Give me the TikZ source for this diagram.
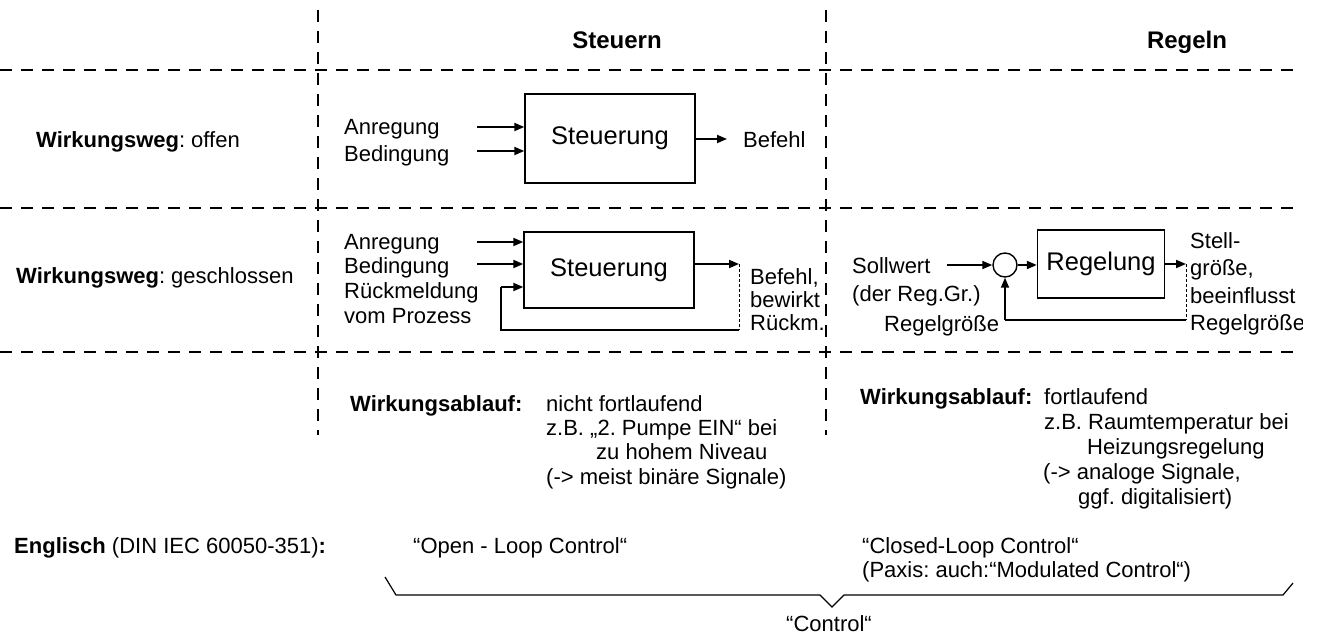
\documentclass[tikz,border=0pt]{standalone}
\usepackage{fontspec}
\setmainfont{Liberation Sans}
\usetikzlibrary{arrows.meta}
\frenchspacing
\begin{document}
\begin{tikzpicture}[x=1pt,y=-1pt,
  txt/.style={font=\fontsize{22}{25}\selectfont, inner sep=0pt, anchor=base west},
  ttl/.style={font=\fontsize{24}{28}\selectfont\bfseries, inner sep=0pt, anchor=base},
  blk/.style={draw, line width=1.4pt, font=\fontsize{25.5}{30}\selectfont, inner sep=0pt},
  grid/.style={line width=2.2pt, dash pattern=on 12pt off 9pt},
  sig/.style={line width=1.8pt, -{Triangle[length=10pt,width=8pt]}},
  fb/.style={line width=1.6pt},
  weak/.style={line width=1pt, dash pattern=on 3pt off 2pt},
  brace/.style={line width=1.2pt}
]
\useasboundingbox (0,0) rectangle (1318,634);
\clip (0,0) rectangle (1302,634);

% ---- table grid ----
\draw[grid] (318,10) -- (318,435);
\draw[grid] (826,10) -- (826,435);
\draw[grid] (0,70) -- (1300,70);
\draw[grid] (0,208) -- (1300,208);
\draw[grid] (0,352) -- (1300,352);

% ---- column headings ----
\node[ttl] (hSteuern) at (617,49) {Steuern};
\node[ttl] (hRegeln) at (1187,49) {Regeln};

% ---- row headings ----
\node[txt] (rowOpen) at (36,147) {\textbf{Wirkungsweg}: offen};
\node[txt] (rowClosed) at (16,283) {\textbf{Wirkungsweg}: geschlossen};

% ---- open-loop control ----
\node[blk, minimum width=170pt, minimum height=89pt] (steuA) at (610,138.5) {Steuerung};
\node[txt] (aAnr) at (344,135) {Anregung};
\node[txt] (aBed) at (344,161) {Bedingung};
\coordinate (aIn1) at (477,127);
\coordinate (aIn2) at (477,151);
\draw[sig] (aIn1) -- (aIn1 -| steuA.west);
\draw[sig] (aIn2) -- (aIn2 -| steuA.west);
\coordinate (aOut) at (727,139);
\draw[sig] (steuA.east |- aOut) -- (aOut);
\node[txt] (aBef) at (743,147) {Befehl};

% ---- closed-loop Steuerung ----
\node[blk, minimum width=170pt, minimum height=76pt] (steuB) at (609,270) {Steuerung};
\node[txt] (bAnr) at (344,249) {Anregung};
\node[txt] (bBed) at (344,273) {Bedingung};
\node[txt] (bRue) at (344,298) {Rückmeldung};
\node[txt] (bVom) at (344,323) {vom Prozess};
\coordinate (bIn1) at (477,242);
\coordinate (bIn2) at (477,264);
\coordinate (bFbIn) at (501,287);
\coordinate (bFbLow) at (501,330);
\coordinate (bOut) at (739,264);
\coordinate (bOutLow) at (739,330);
\draw[sig] (bIn1) -- (bIn1 -| steuB.west);
\draw[sig] (bIn2) -- (bIn2 -| steuB.west);
\draw[sig] (steuB.east |- bOut) -- (bOut);
\draw[weak] (bOut) -- (bOutLow);
\draw[fb] (bOutLow) -- (bFbLow) -- (bFbIn);
\draw[sig] (bFbIn) -- (bFbIn -| steuB.west);
\node[txt] (bBef) at (750,284) {Befehl,};
\node[txt] (bBew) at (750,307) {bewirkt};
\node[txt] (bRm) at (750,330) {Rückm.};

% ---- closed-loop Regelung ----
\node[txt] (cSoll) at (852,273) {Sollwert};
\node[txt] (cDer) at (852,301) {(der Reg.Gr.)};
\node[draw, circle, line width=1.4pt, minimum size=24pt, inner sep=0pt] (sum) at (1005,265) {};
\node[blk, minimum width=127pt, minimum height=68pt] (regel) at (1101,264) {Regelung};
\coordinate (cIn) at (947,265);
\coordinate (cOut) at (1186,264);
\coordinate (cOutLow) at (1186,320);
\coordinate (cFbLow) at (1005,320);
\draw[sig] (cIn) -- (sum.west);
\draw[sig] (sum.east) -- (sum.east -| regel.west);
\draw[sig] (regel.east |- cOut) -- (cOut);
\draw[weak] (cOut) -- (cOutLow);
\draw[fb] (cOutLow) -- (cFbLow);
\draw[sig] (cFbLow) -- (sum.south);
\node[txt] (cIst) at (884,331) {Regelgröße};
\node[txt] (cSt1) at (1190,248) {Stell-};
\node[txt] (cSt2) at (1190,275) {größe,};
\node[txt] (cSt3) at (1190,303) {beeinflusst};
\node[txt] (cSt4) at (1190,330) {Regelgröße};

% ---- Wirkungsablauf ----
\node[txt] (wL0) at (350,411) {\textbf{Wirkungsablauf:}};
\node[txt] (wL1) at (546,411) {nicht fortlaufend};
\node[txt] (wL2) at (546,435) {z.B. „2. Pumpe EIN“ bei};
\node[txt] (wL3) at (596,459) {zu hohem Niveau};
\node[txt] (wL4) at (546,484) {(-> meist binäre Signale)};
\node[txt] (wR0) at (860,404) {\textbf{Wirkungsablauf:}};
\node[txt] (wR1) at (1044,404) {fortlaufend};
\node[txt] (wR2) at (1044,429) {z.B. Raumtemperatur bei};
\node[txt] (wR3) at (1087,454) {Heizungsregelung};
\node[txt] (wR4) at (1043,479) {(-> analoge Signale,};
\node[txt] (wR5) at (1078,504) {ggf. digitalisiert)};

% ---- English terms ----
\node[txt] (eng) at (14,553) {\textbf{Englisch} (DIN IEC 60050-351)\textbf{:}};
\node[txt] (eOpen) at (413,553) {“Open - Loop Control“};
\node[txt] (eClosed) at (862,553) {“Closed-Loop Control“};
\node[txt] (ePraxis) at (862,577) {(Paxis: auch:“Modulated Control“)};
\draw[brace] (385,577) -- (396,595) -- (820,595) -- (832,607) -- (844,595) -- (1283,595) -- (1293,583);
\node[txt, anchor=base] (eCtrl) at (829,631) {“Control“};
\end{tikzpicture}
\end{document}
